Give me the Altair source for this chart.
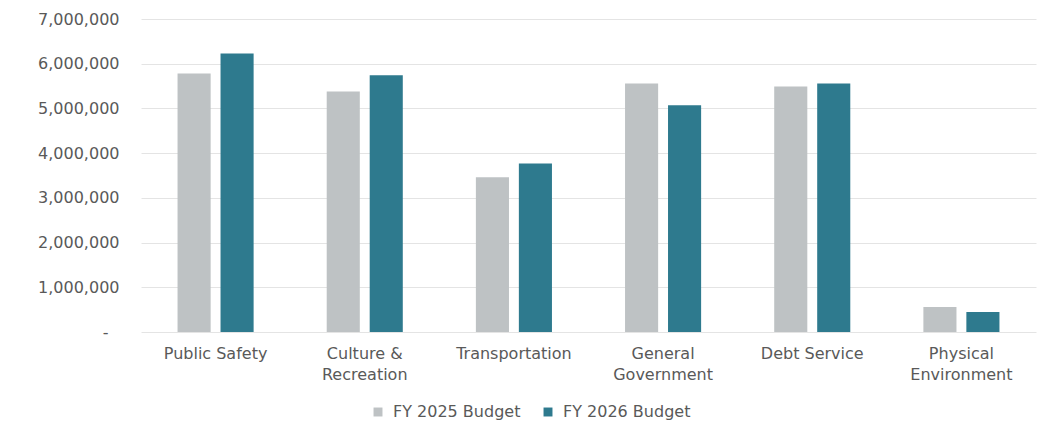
import altair as alt
import pandas as pd

categories = ["Public Safety", "Culture &|Recreation", "Transportation",
              "General|Government", "Debt Service", "Physical|Environment"]
series = ["FY 2025 Budget", "FY 2026 Budget"]
fy2025 = [5780000, 5380000, 3460000, 5560000, 5490000, 560000]
fy2026 = [6230000, 5740000, 3770000, 5070000, 5560000, 450000]

rows = []
for c, a, b in zip(categories, fy2025, fy2026):
    rows.append({"cat": c, "series": series[0], "value": a})
    rows.append({"cat": c, "series": series[1], "value": b})
df = pd.DataFrame(rows)

FONT = "DejaVu Sans"
TXT = "#595959"

chart = alt.Chart(df).mark_bar().encode(
    x=alt.X("cat:N", sort=categories, title=None,
            scale=alt.Scale(paddingInner=0.49, paddingOuter=0.245),
            axis=alt.Axis(labelAngle=0, domain=False, ticks=False,
                          labelExpr="split(datum.label, '|')",
                          labelFont=FONT, labelFontSize=16, labelColor=TXT,
                          labelPadding=13, labelLineHeight=21)),
    xOffset=alt.XOffset("series:N", sort=series,
                        scale=alt.Scale(paddingInner=0.23, paddingOuter=0)),
    y=alt.Y("value:Q", title=None,
            scale=alt.Scale(domain=[0, 7000000], nice=False),
            axis=alt.Axis(values=[0, 1000000, 2000000, 3000000, 4000000,
                                  5000000, 6000000, 7000000],
                          labelExpr="datum.value == 0 ? '-' : format(datum.value, ',')",
                          domain=False, ticks=False,
                          labelPadding={"condition": {"test": "datum.value == 0", "value": 33},
                                        "value": 22},
                          labelFont=FONT, labelFontSize=16, labelColor=TXT,
                          gridColor="#E4E4E4", gridWidth=1)),
    color=alt.Color("series:N", sort=series,
                    scale=alt.Scale(domain=series, range=["#BEC2C4", "#2E7A8E"]),
                    legend=alt.Legend(title=None, orient="none", direction="horizontal",
                                      legendX=229, legendY=385,
                                      symbolType="square", symbolSize=80,
                                      symbolStrokeWidth=0,
                                      labelFont=FONT, labelFontSize=16,
                                      labelColor=TXT, columnPadding=19,
                                      labelOffset=7)),
).properties(
    width=895, height=313,
    background="white",
    autosize=alt.AutoSizeParams(type="none"),
    padding={"left": 133, "top": 11, "right": 11, "bottom": 95},
).configure_view(strokeWidth=0)

chart.save("out.html", embed_options={"renderer": "svg", "actions": False})
